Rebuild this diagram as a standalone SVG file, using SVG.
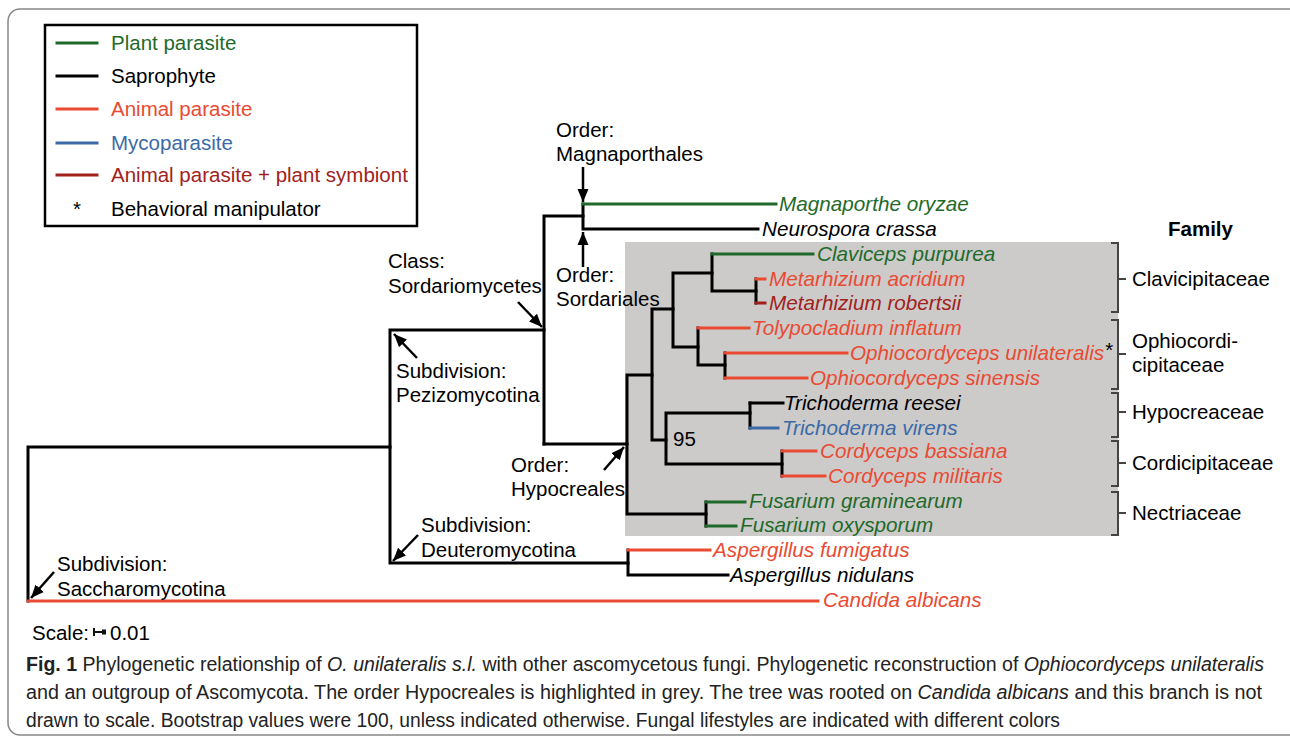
<svg xmlns="http://www.w3.org/2000/svg" width="1290" height="737" viewBox="0 0 1290 737">
<style>
.t{font-family:"Liberation Sans",Arial,sans-serif;font-size:20.5px;fill:#000}
.i{font-family:"Liberation Sans",Arial,sans-serif;font-size:20.7px;font-style:italic}
.br{fill:none;stroke:#000;stroke-width:3;stroke-linecap:square;stroke-linejoin:miter}
.g{stroke:#1f6a2a}.r{stroke:#ea4a32}.b{stroke:#3b6aa6}.dr{stroke:#a3211c}
.gf{fill:#1f6a2a}.rf{fill:#ea4a32}.bf{fill:#3b6aa6}.drf{fill:#a3211c}.kf{fill:#000}
.arr{stroke:#000;stroke-width:2.5;fill:none;marker-end:url(#ah)}
.fam{fill:none;stroke:#444;stroke-width:2}
.cap{font-family:"Liberation Sans",Arial,sans-serif;font-size:19.5px;fill:#222}
</style>
<defs>
<marker id="ah" markerUnits="userSpaceOnUse" markerWidth="14" markerHeight="14" viewBox="0 0 14 14" refX="13" refY="7" orient="auto">
<path d="M0,1.5 L13,7 L0,12.5 Z" fill="#000"/>
</marker>
</defs>
<rect width="1290" height="737" fill="#fff"/>
<rect x="8" y="9" width="1300" height="726" rx="12" fill="none" stroke="#888" stroke-width="1.5"/>

<g id="legend">
<rect x="45" y="25" width="372" height="201" fill="#fff" stroke="#000" stroke-width="2.5"/>
<line x1="57" y1="43" x2="97" y2="43" class="br g" stroke-linecap="butt"/>
<line x1="57" y1="76" x2="97" y2="76" class="br" stroke-linecap="butt"/>
<line x1="57" y1="109" x2="97" y2="109" class="br r" stroke-linecap="butt"/>
<line x1="57" y1="143" x2="97" y2="143" class="br b" stroke-linecap="butt"/>
<line x1="57" y1="175" x2="97" y2="175" class="br dr" stroke-linecap="butt"/>
<text x="111" y="50" class="t gf">Plant parasite</text>
<text x="111" y="83" class="t">Saprophyte</text>
<text x="111" y="116" class="t rf">Animal parasite</text>
<text x="111" y="150" class="t bf">Mycoparasite</text>
<text x="111" y="182" class="t drf">Animal parasite + plant symbiont</text>
<text x="73" y="216" class="t">*</text>
<text x="111" y="216" class="t">Behavioral manipulator</text>
</g>

<rect id="hypocreales-box" x="625" y="242" width="493" height="294" fill="#cccbca"/>

<g id="connectors">
<path class="br" d="M28,601 V447 H390"/>
<path class="br" d="M544,330 H390 V563 H628"/>
<path class="br" d="M628,550 V575 H728"/>
<path class="br r" d="M628,550 H710"/>
<path class="br" d="M544,444 V216 H583"/>
<path class="br" d="M583,204 V229 H758"/>
<path class="br g" d="M583,204 H776"/>
<path class="br" d="M544,444 H627"/>
<path class="br" d="M652,375 H627 V514 H706"/>
<path class="br" d="M706,502 V526"/>
<path class="br g" d="M706,502 H745"/>
<path class="br g" d="M706,526 H736"/>
<path class="br" d="M673,309 H652 V440 H666"/>
<path class="br" d="M712,273 H673 V347 H698"/>
<path class="br" d="M712,254 V291 H756"/>
<path class="br g" d="M712,254 H813"/>
<path class="br" d="M756,279 V303"/>
<path class="br r" d="M756,279 H765"/>
<path class="br dr" d="M756,303 H765"/>
<path class="br" d="M698,328 V365 H725"/>
<path class="br r" d="M698,328 H749"/>
<path class="br" d="M725,353 V378"/>
<path class="br r" d="M725,353 H847"/>
<path class="br r" d="M725,378 H807"/>
<path class="br" d="M750,413 H666 V464 H782"/>
<path class="br" d="M750,403 V428"/>
<path class="br" d="M750,403 H783"/>
<path class="br b" d="M750,428 H778"/>
<path class="br" d="M782,451 V476"/>
<path class="br r" d="M782,451 H816"/>
<path class="br r" d="M782,476 H825"/>
<path class="br r" d="M28,601 H818"/>
</g>

<g id="annotations">
<g id="magnaporthales"><text x="556" y="137" class="t">Order:</text><text x="556" y="161" class="t">Magnaporthales</text><line class="arr" x1="583" y1="167" x2="583" y2="202"/></g>
<g id="sordariales"><text x="556" y="282" class="t">Order:</text><text x="556" y="306" class="t">Sordariales</text><line class="arr" x1="583" y1="267" x2="583" y2="232"/></g>
<g id="sordariomycetes"><text x="388" y="268" class="t">Class:</text><text x="388" y="293" class="t">Sordariomycetes</text><line class="arr" x1="518" y1="302" x2="542" y2="327"/></g>
<g id="pezizomycotina"><text x="396" y="378" class="t">Subdivision:</text><text x="396" y="402" class="t">Pezizomycotina</text><line class="arr" x1="417" y1="358" x2="394" y2="334"/></g>
<g id="hypocreales"><text x="511" y="472" class="t">Order:</text><text x="511" y="496" class="t">Hypocreales</text><line class="arr" x1="604" y1="470" x2="624" y2="447"/></g>
<g id="deuteromycotina"><text x="421" y="532" class="t">Subdivision:</text><text x="421" y="557" class="t">Deuteromycotina</text><line class="arr" x1="418" y1="535" x2="393" y2="561"/></g>
<g id="saccharomycotina"><text x="57" y="571" class="t">Subdivision:</text><text x="57" y="596" class="t">Saccharomycotina</text><line class="arr" x1="54" y1="572" x2="31" y2="598"/></g>
<text id="bootstrap" x="673" y="446" class="t">95</text>
</g>

<g id="taxa">
<text id="magnaporthe-oryzae" x="779" y="211" class="i gf">Magnaporthe oryzae</text>
<text id="neurospora-crassa" x="762" y="236" class="i kf">Neurospora crassa</text>
<text id="claviceps-purpurea" x="817" y="261" class="i gf">Claviceps purpurea</text>
<text id="metarhizium-acridium" x="769" y="286" class="i rf">Metarhizium acridium</text>
<text id="metarhizium-robertsii" x="769" y="310" class="i drf">Metarhizium robertsii</text>
<text id="tolypocladium-inflatum" x="752" y="335" class="i rf">Tolypocladium inflatum</text>
<text id="ophiocordyceps-unilateralis" x="850" y="360" class="i rf">Ophiocordyceps unilateralis<tspan class="t" font-style="normal" dx="1" dy="-3">*</tspan></text>
<text id="ophiocordyceps-sinensis" x="810" y="385" class="i rf">Ophiocordyceps sinensis</text>
<text id="trichoderma-reesei" x="784" y="410" class="i kf">Trichoderma reesei</text>
<text id="trichoderma-virens" x="782" y="435" class="i bf">Trichoderma virens</text>
<text id="cordyceps-bassiana" x="820" y="458" class="i rf">Cordyceps bassiana</text>
<text id="cordyceps-militaris" x="828" y="483" class="i rf">Cordyceps militaris</text>
<text id="fusarium-graminearum" x="749" y="508" class="i gf">Fusarium graminearum</text>
<text id="fusarium-oxysporum" x="740" y="532" class="i gf">Fusarium oxysporum</text>
<text id="aspergillus-fumigatus" x="713" y="557" class="i rf">Aspergillus fumigatus</text>
<text id="aspergillus-nidulans" x="730" y="582" class="i kf">Aspergillus nidulans</text>
<text id="candida-albicans" x="823" y="607" class="i rf">Candida albicans</text>
</g>

<g id="families">
<text x="1168" y="236" class="t" font-weight="bold">Family</text>
<g id="clavicipitaceae"><path class="fam" d="M1111,243 H1118 V312 H1111 M1118,279 H1126"/><text x="1132" y="286" class="t">Clavicipitaceae</text></g>
<g id="ophiocordicipitaceae"><path class="fam" d="M1111,320 H1118 V389 H1111 M1118,354 H1126"/><text x="1132" y="348" class="t">Ophiocordi-</text><text x="1132" y="372" class="t">cipitaceae</text></g>
<g id="hypocreaceae"><path class="fam" d="M1111,393 H1118 V437 H1111 M1118,412 H1126"/><text x="1132" y="419" class="t">Hypocreaceae</text></g>
<g id="cordicipitaceae"><path class="fam" d="M1111,441 H1118 V486 H1111 M1118,463 H1126"/><text x="1132" y="470" class="t">Cordicipitaceae</text></g>
<g id="nectriaceae"><path class="fam" d="M1111,492 H1118 V535 H1111 M1118,513 H1126"/><text x="1132" y="520" class="t">Nectriaceae</text></g>
</g>

<g id="scale">
<text x="32" y="640" class="t" font-size="20">Scale:</text>
<path d="M94,632 H104 M94,628 V636" stroke="#111" stroke-width="2" fill="none"/>
<rect x="102" y="629.5" width="4" height="5" fill="#111"/>
<text x="110" y="640" class="t" font-size="20">0.01</text>
</g>

<g id="caption">
<text x="26" y="671" class="cap" textLength="1238" lengthAdjust="spacingAndGlyphs"><tspan font-weight="bold">Fig. 1</tspan> Phylogenetic relationship of <tspan font-style="italic">O. unilateralis s.l.</tspan> with other ascomycetous fungi. Phylogenetic reconstruction of <tspan font-style="italic">Ophiocordyceps unilateralis</tspan></text>
<text x="26" y="699" class="cap" textLength="1236" lengthAdjust="spacingAndGlyphs">and an outgroup of Ascomycota. The order Hypocreales is highlighted in grey. The tree was rooted on <tspan font-style="italic">Candida albicans</tspan> and this branch is not</text>
<text x="26" y="727" class="cap" textLength="1034" lengthAdjust="spacingAndGlyphs">drawn to scale. Bootstrap values were 100, unless indicated otherwise. Fungal lifestyles are indicated with different colors</text>
</g>
</svg>
